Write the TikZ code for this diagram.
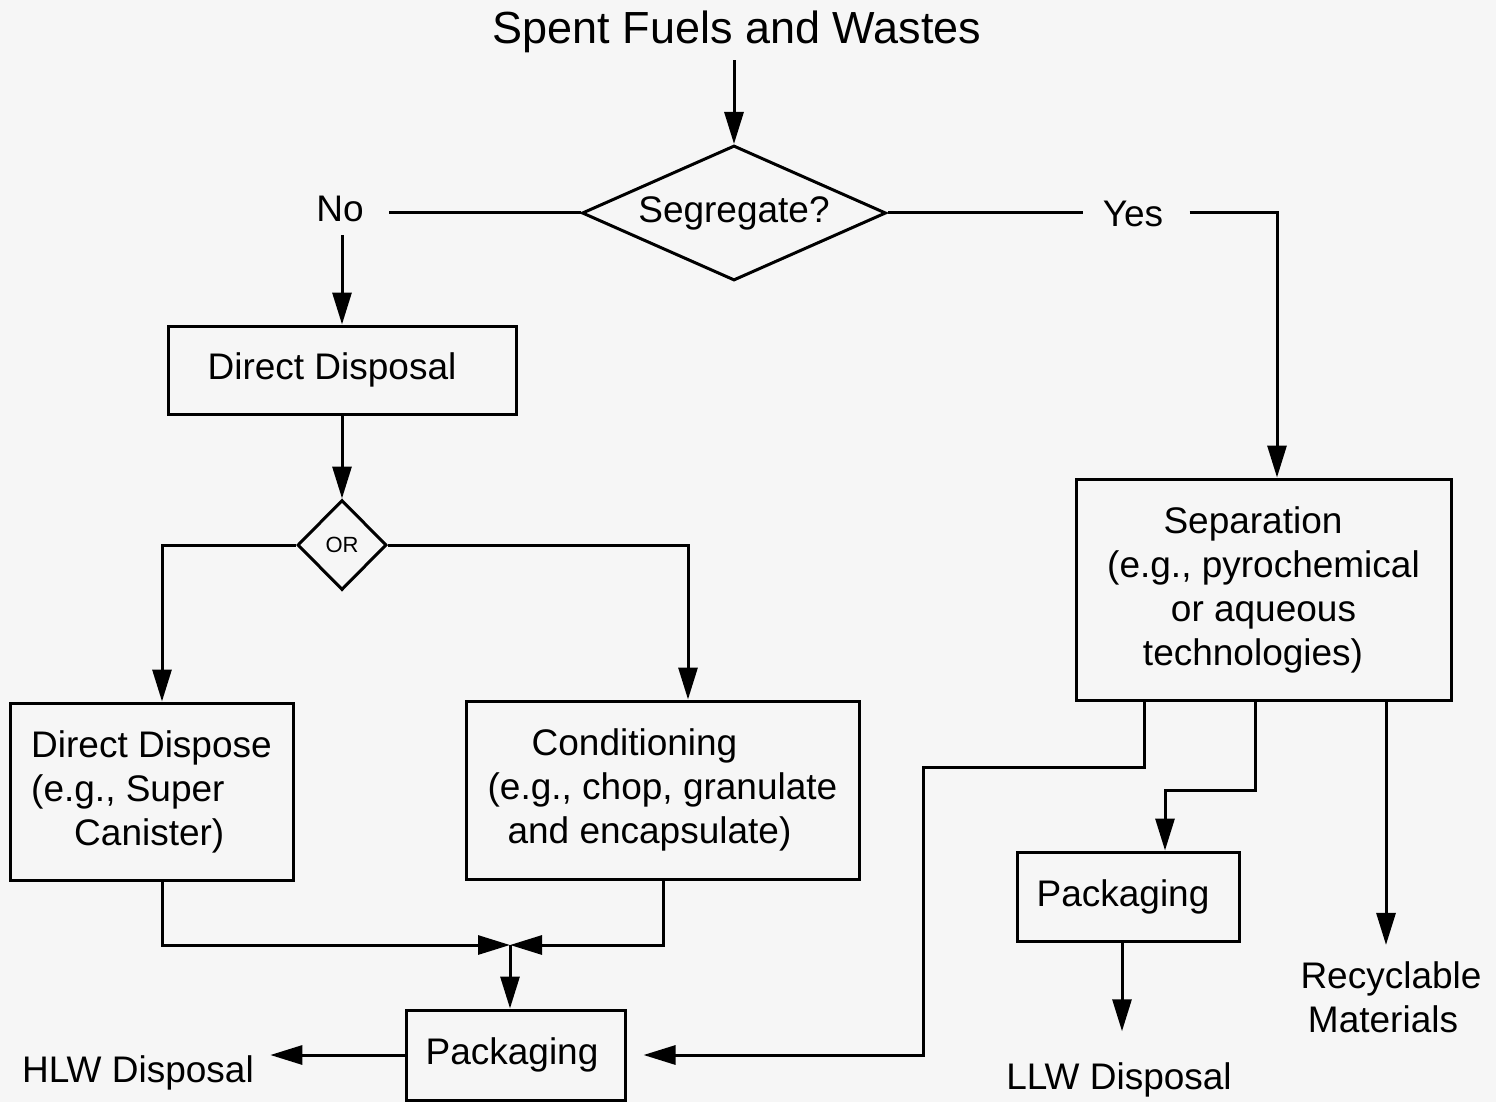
\documentclass[tikz,border=0pt]{standalone}
\usepackage{fontspec}
\setmainfont{Liberation Sans}
\usetikzlibrary{arrows.meta,shapes.geometric}
\definecolor{paper}{HTML}{F6F6F6}
\begin{document}
\begin{tikzpicture}[x=1pt,y=-1pt,line width=3pt,
  body/.style={font=\fontsize{37}{44}\selectfont},
  box/.style={draw,rectangle,inner sep=0pt,body,align=center},
  lbl/.style={inner sep=0pt,body,align=center},
  decision/.style={draw,diamond,inner sep=0pt},
  arr/.style={-{Triangle[length=32pt,width=19pt]}},
]
% paper and page size
\fill[paper] (0,0) rectangle (1496,1102);
\useasboundingbox (0,0) rectangle (1496,1102);

% title and the first decision
\node[inner sep=6pt,font=\fontsize{45}{54}\selectfont] (title) at (737,32) {Spent Fuels and Wastes};
\node[decision,aspect=2.25,minimum width=304pt,minimum height=135pt,body] (seg) at (734,213) {Segregate?};
\node[lbl] (no) at (340,209) {No};
\node[lbl] (yes) at (1133,214) {Yes};

% left branch: direct disposal
\node[box,minimum width=348pt,minimum height=88pt] (dd) at (342,370) {Direct Disposal\hspace*{20pt}};
\node[decision,minimum width=89pt,minimum height=90pt,font=\fontsize{22}{26}\selectfont] (or) at (342,545) {OR};
\node[box,align=left,minimum width=283pt,minimum height=177pt] (dds) at (151.5,791.5)
  {Direct Dispose\\(e.g., Super\\\hspace*{43pt}Canister)};
\node[box,minimum width=393pt,minimum height=178pt] (cond) at (662.5,790)
  {Conditioning\hspace*{56pt}\\(e.g., chop, granulate\\and encapsulate)\hspace*{26pt}};
\node[box,minimum width=219pt,minimum height=90pt] (pk) at (515.5,1055) {Packaging\hspace*{7pt}};
\node[lbl] (hlw) at (138,1073) {HLW Disposal};
\coordinate (mg) at (510,945);

% right branch: separation
\node[box,minimum width=375pt,minimum height=221pt] (sep) at (1263.5,589.5)
  {Separation\hspace*{21pt}\\(e.g., pyrochemical\hspace*{21pt}\\or aqueous\hspace*{21pt}\\technologies)\hspace*{21pt}};
\node[box,minimum width=222pt,minimum height=89pt] (pk2) at (1128,896.5) {Packaging\hspace*{10pt}};
\node[lbl] (llw) at (1119,1080) {LLW Disposal};
\node[lbl] (rec) at (1391,997) {Recyclable\\\hspace*{-16pt}Materials};
\coordinate (s1) at ([xshift=-119.5pt]sep.south);
\coordinate (s2) at ([xshift=-8.5pt]sep.south);
\coordinate (s3) at ([xshift=122.5pt]sep.south);
\coordinate (b1) at (923,767);
\coordinate (b2) at (1165,790);

% connectors
\draw[arr] (title.south -| seg.north) -- (seg.north);
\draw[shorten >=24pt] (seg.west) -- (no.east |- seg.west);
\draw[arr,shorten <=12pt] (no.south -| dd.north) -- (dd.north);
\draw[shorten >=18pt] (seg.east) -- (yes.west |- seg.east);
\draw[arr,shorten <=25pt] (yes.east |- seg.east) -| ([xshift=13.5pt]sep.north);

\draw[arr] (dd.south) -- (or.north);
\draw[arr] (or.west) -| ([xshift=10.5pt]dds.north);
\draw[arr] (or.east) -| ([xshift=25.5pt]cond.north);
\draw[arr] ([xshift=10.5pt]dds.south) |- (mg);
\draw[arr] ([xshift=0.5pt]cond.south) |- (mg);
\draw[arr] (mg) -- (mg |- pk.north);
\draw[arr,shorten >=15pt] (pk.west) -- (hlw.east |- pk.west);

\draw[arr,shorten >=17pt] (s1) |- (b1) |- (pk.east);
\draw[arr] (s2) |- (b2) -- (b2 |- pk2.north);
\draw[arr,shorten >=30pt] ([xshift=-6pt]pk2.south) -- ([xshift=-6pt]pk2.south |- llw.north);
\draw[arr,shorten >=15pt] (s3) -- (s3 |- rec.north);
\end{tikzpicture}
\end{document}
